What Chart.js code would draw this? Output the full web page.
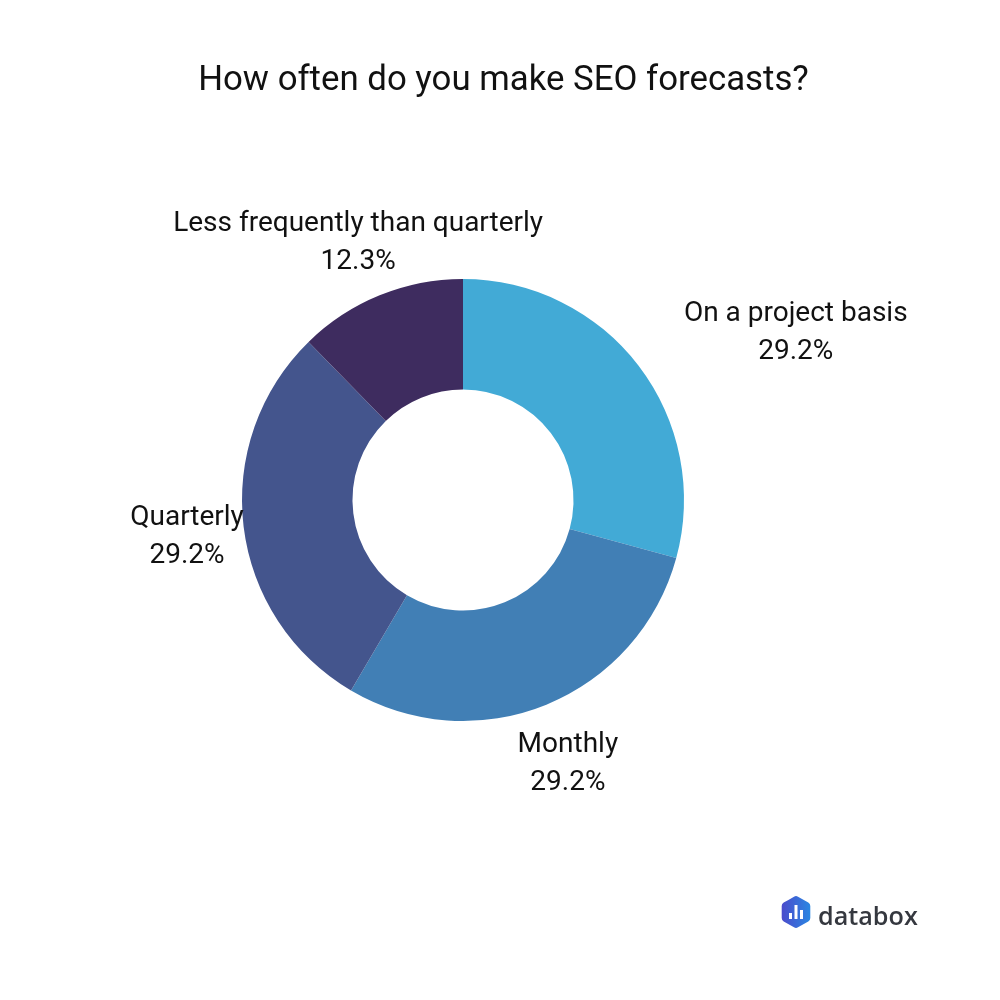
<!DOCTYPE html>
<html>
<head>
<meta charset="utf-8">
<script src="https://cdn.jsdelivr.net/npm/chart.js@4"></script>
<style>
  html, body { margin: 0; padding: 0; background: #fff; }
  #wrap { width: 1000px; height: 1000px; position: relative; }
</style>
</head>
<body>
<div id="wrap"><canvas id="chart" width="1000" height="1000"></canvas></div>
<script>
const title = "How often do you make SEO forecasts?"
const categories = ["On a project basis", "Monthly", "Quarterly", "Less frequently than quarterly"]
const shares = [29.2, 29.2, 29.2, 12.3]
const colors = ["#42aad6", "#417fb5", "#44558d", "#3e2c5f"]

const FONT = "Roboto, 'Noto Sans', sans-serif"

function hexPath(ctx, cx, cy, R, rad) {
  // pointy-top hexagon with softened corners
  const pts = []
  for (let k = 0; k < 6; k++) {
    const a = -Math.PI / 2 + k * Math.PI / 3
    pts.push([cx + Math.cos(a) * R, cy + Math.sin(a) * R])
  }
  ctx.beginPath()
  const m0 = [(pts[5][0] + pts[0][0]) / 2, (pts[5][1] + pts[0][1]) / 2]
  ctx.moveTo(m0[0], m0[1])
  for (let k = 0; k < 6; k++) {
    const p = pts[k], n = pts[(k + 1) % 6]
    ctx.arcTo(p[0], p[1], n[0], n[1], rad)
  }
  ctx.closePath()
}

// title, outside labels and the logo
const overlay = {
  id: "overlay",
  afterDraw(chart) {
    const ctx = chart.ctx
    ctx.save()
    ctx.fillStyle = "#111"
    ctx.textAlign = "center"
    ctx.textBaseline = "alphabetic"
    ctx.font = "34.8px " + FONT
    ctx.fillText(title, 503.5, 90)

    const arcs = chart.getDatasetMeta(0).data
    ctx.font = "28px " + FONT
    arcs.forEach((arc, i) => {
      const mid = (arc.startAngle + arc.endAngle) / 2
      const r = arc.outerRadius + 57
      const c = Math.cos(mid), s = Math.sin(mid)
      let x = arc.x + c * r
      const y = arc.y + s * r
      const b1 = y - 8.5 + 3.5 * s
      const pct = shares[i].toFixed(1) + "%"
      // labels in the upper right sit beside the ring, starting at the anchor
      if (c > 0.3 && s < -0.3) x += ctx.measureText(categories[i]).width / 2
      ctx.textAlign = "center"
      ctx.fillText(categories[i], x, b1)
      ctx.fillText(pct, x, b1 + 38)
    })

    // databox logo
    const lx = 796, ly = 912
    const g = ctx.createLinearGradient(lx - 14, ly, lx + 14, ly)
    g.addColorStop(0, "#4b4ccc")
    g.addColorStop(1, "#2a86e2")
    ctx.fillStyle = g
    hexPath(ctx, lx, ly, 16.5, 4)
    ctx.fill()
    ctx.fillStyle = "#fff"
    ctx.fillRect(lx - 7, ly + 1, 3, 6)
    ctx.fillRect(lx - 1.5, ly - 7, 3, 14)
    ctx.fillRect(lx + 4, ly - 2, 3, 9)
    ctx.fillStyle = "#35383f"
    ctx.textAlign = "left"
    let fs = 28
    ctx.font = "600 " + fs + "px 'Open Sans', sans-serif"
    fs = fs * 100 / ctx.measureText("databox").width
    ctx.font = "600 " + fs.toFixed(1) + "px 'Open Sans', sans-serif"
    ctx.fillText("databox", 818, 925)
    ctx.restore()
  }
}

new Chart(document.getElementById("chart"), {
  type: "doughnut",
  data: {
    labels: categories,
    datasets: [{
      data: shares,
      backgroundColor: colors,
      borderWidth: 0
    }]
  },
  options: {
    responsive: false,
    animation: false,
    cutout: "50%",
    layout: { padding: { left: 242, right: 316, top: 278, bottom: 278 } },
    plugins: {
      legend: { display: false },
      title: { display: false },
      tooltip: { enabled: false }
    }
  },
  plugins: [overlay]
})
</script>
</body>
</html>
